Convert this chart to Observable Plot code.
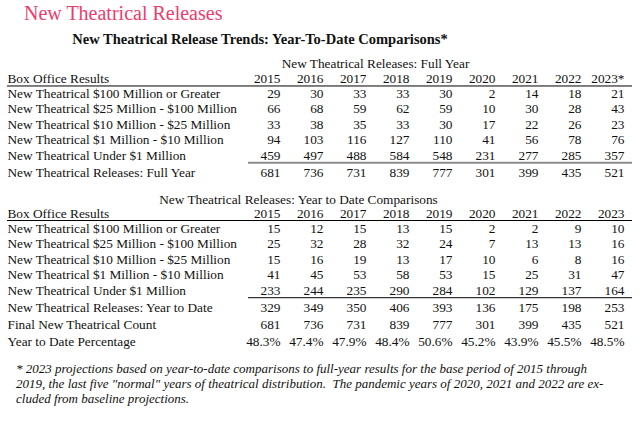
<!DOCTYPE html>
<html>
<head>
<meta charset="utf-8">
<script src="https://cdn.jsdelivr.net/npm/d3@7"></script>
<script src="https://cdn.jsdelivr.net/npm/@observablehq/plot@0.6"></script>
<style>
  html, body { margin: 0; padding: 0; background: #fff; }
  #wrap { position: relative; width: 640px; height: 427px; overflow: hidden; font-family: "Liberation Serif", serif; color: #111; }
  #title { position: absolute; left: 24px; top: 0; height: 26px; line-height: 26px; font-size: 20px; color: #ee3c6e; white-space: nowrap; }
  #subtitle { position: absolute; left: 0; width: 520px; top: 26px; height: 26px; line-height: 26px; font-size: 14.5px; font-weight: bold; text-align: center; white-space: nowrap; }
  #chart { position: absolute; left: 0; top: 52px; }
  #note { position: absolute; left: 16px; top: 361px; font-size: 13px; line-height: 15px; font-style: italic; white-space: pre; }
</style>
</head>
<body>
<div id="wrap">
  <div id="title"></div>
  <div id="subtitle"></div>
  <div id="chart"></div>
  <div id="note"></div>
</div>
<script>
const titleText = "New Theatrical Releases";
const subtitleText = "New Theatrical Release Trends: Year-To-Date Comparisons*";
const table1Title = "New Theatrical Releases: Full Year";
const table2Title = "New Theatrical Releases: Year to Date Comparisons";
const noteLines = [
  "* 2023 projections based on year-to-date comparisons to full-year results for the base period of 2015 through",
  "2019, the last five \"normal\" years of theatrical distribution.  The pandemic years of 2020, 2021 and 2022 are ex-",
  "cluded from baseline projections."
];

const years = ["2015", "2016", "2017", "2018", "2019", "2020", "2021", "2022", "2023"];
const fullYearHeader = ["2015", "2016", "2017", "2018", "2019", "2020", "2021", "2022", "2023*"];
const headerLabel = "Box Office Results";
const categories = [
  "New Theatrical $100 Million or Greater",
  "New Theatrical $25 Million - $100 Million",
  "New Theatrical $10 Million - $25 Million",
  "New Theatrical $1 Million - $10 Million",
  "New Theatrical Under $1 Million"
];

// Full year
const fy100 = [29, 30, 33, 33, 30, 2, 14, 18, 21];
const fy25 = [66, 68, 59, 62, 59, 10, 30, 28, 43];
const fy10 = [33, 38, 35, 33, 30, 17, 22, 26, 23];
const fy1 = [94, 103, 116, 127, 110, 41, 56, 78, 76];
const fyUnder = [459, 497, 488, 584, 548, 231, 277, 285, 357];
const fyTotal = [681, 736, 731, 839, 777, 301, 399, 435, 521];

// Year to date
const ytd100 = [15, 12, 15, 13, 15, 2, 2, 9, 10];
const ytd25 = [25, 32, 28, 32, 24, 7, 13, 13, 16];
const ytd10 = [15, 16, 19, 13, 17, 10, 6, 8, 16];
const ytd1 = [41, 45, 53, 58, 53, 15, 25, 31, 47];
const ytdUnder = [233, 244, 235, 290, 284, 102, 129, 137, 164];
const ytdTotal = [329, 349, 350, 406, 393, 136, 175, 198, 253];
const finalCount = [681, 736, 731, 839, 777, 301, 399, 435, 521];
const ytdPercent = [48.3, 47.4, 47.9, 48.4, 50.6, 45.2, 43.9, 45.5, 48.5];

const totalLabels = [
  "New Theatrical Releases: Full Year",
  "New Theatrical Releases: Year to Date",
  "Final New Theatrical Count",
  "Year to Date Percentage"
];

document.getElementById("title").textContent = titleText;
document.getElementById("subtitle").textContent = subtitleText;
const note = document.getElementById("note");
noteLines.forEach((t, i) => { if (i) note.appendChild(document.createTextNode("\n")); note.appendChild(document.createTextNode(t)); });

// Layout in "line" units
const rows = [];
let line = 0;
const titles = [{line: 0, text: table1Title, dx: 368}];
line += 0.97; rows.push({line, label: headerLabel, cells: fullYearHeader});
const headerRule1 = line + 0.48;
line += 0.97;
[fy100, fy25, fy10, fy1, fyUnder].forEach((vals, i) => { rows.push({line, label: categories[i], cells: vals.map(String)}); line += 1; });
const sumRule1 = line - 1 + 0.47;
line += 0.09; rows.push({line, label: totalLabels[0], cells: fyTotal.map(String)});
line += 1.74; titles.push({line, text: table2Title, dx: 291});
line += 0.91; rows.push({line, label: headerLabel, cells: years});
const headerRule2 = line + 0.45;
line += 0.97;
[ytd100, ytd25, ytd10, ytd1, ytdUnder].forEach((vals, i) => { rows.push({line, label: categories[i], cells: vals.map(String)}); line += 1; });
const sumRule2 = line - 1 + 0.46;
line += 0.09; rows.push({line, label: totalLabels[1], cells: ytdTotal.map(String)});
line += 1.1; rows.push({line, label: totalLabels[2], cells: finalCount.map(String)});
line += 1.1; rows.push({line, label: totalLabels[3], cells: ytdPercent.map(d => d.toFixed(1) + "%")});

const cells = rows.flatMap(r => r.cells.map((t, j) => ({line: r.line, col: years[j], text: t})));

const fs = 13.3;
const chart = Plot.plot({
  width: 640,
  height: 300,
  marginLeft: 7,
  marginRight: 8,
  marginTop: 0,
  marginBottom: 0,
  style: {fontFamily: "'Liberation Serif', serif", fontSize: fs + "px", color: "#111", background: "transparent"},
  x: {type: "point", domain: years, range: [276, 627], padding: 0, axis: null},
  y: {type: "linear", domain: [0, 18], range: [11, 290], axis: null},
  marks: [
    Plot.ruleY([headerRule1, headerRule2], {stroke: "#000", strokeWidth: 1}),
    Plot.ruleY([sumRule1], {stroke: "#8c8c8c", strokeWidth: 2, insetLeft: 241}),
    Plot.ruleY([sumRule2], {stroke: "#000", strokeWidth: 1, insetLeft: 241}),
    ...titles.map(t => Plot.text([t], {y: "line", text: "text", frameAnchor: "left", dx: t.dx, textAnchor: "middle", fontSize: fs, fill: "#111"})),
    Plot.text(rows, {y: "line", text: "label", frameAnchor: "left", textAnchor: "start", fontSize: fs, fill: "#111"}),
    Plot.text(cells, {x: "col", y: "line", text: "text", textAnchor: "end", fontSize: fs, fill: "#111"})
  ]
});
document.getElementById("chart").appendChild(chart);
</script>
</body>
</html>
